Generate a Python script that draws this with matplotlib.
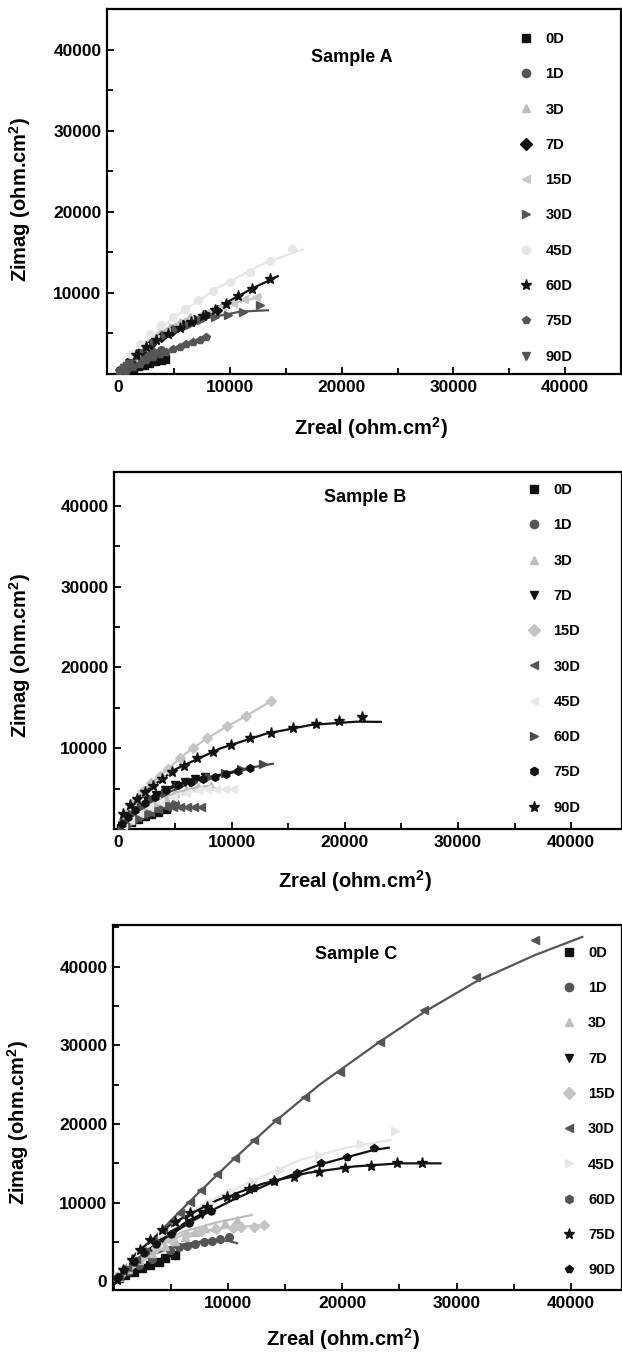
import matplotlib
matplotlib.use("Agg")
import matplotlib.pyplot as plt
from matplotlib.lines import Line2D
from matplotlib.ticker import MultipleLocator, FixedLocator

plt.rcParams['font.family'] = ['Liberation Sans', 'DejaVu Sans']
plt.rcParams['font.weight'] = 'bold'
plt.rcParams['mathtext.fontset'] = 'custom'
plt.rcParams['mathtext.rm'] = 'Liberation Sans:bold'
plt.rcParams['mathtext.bf'] = 'Liberation Sans:bold'
plt.rcParams['mathtext.default'] = 'bf'

labels = ['0D', '1D', '3D', '7D', '15D', '30D', '45D', '60D', '75D', '90D']

# ---------------- Sample A ----------------
A_markers = ['s', 'o', '^', 'D', '<', '>', 'o', '*', 'p', 'v']
A_colors = ['#111111', '#555555', '#bdbdbd', '#111111', '#c8c8c8', '#555555', '#e6e6e6', '#111111', '#555555', '#555555']
A_x = [
    [300, 800, 1300, 1800, 2300, 2800, 3300, 3800, 4200],
    [200, 600, 1100, 1700, 2400, 3100, 3800],
    [300, 800, 1400, 2100, 2900, 3700, 4600, 5500, 6400],
    [300, 800, 1400, 2100, 2900, 3800, 4800, 5800, 6800, 7800, 8800],
    [500, 1300, 2300, 3300, 4300, 5300, 6300, 7300, 8300, 9300, 10300, 11300, 12360],
    [600, 1400, 2300, 3200, 4200, 5200, 6300, 7440, 8630, 9820, 11160, 12660],
    [580, 1180, 1920, 2820, 3860, 4900, 5950, 7140, 8480, 9970, 11760, 13550, 15580],
    [880, 1630, 2520, 3420, 4450, 5500, 6550, 7590, 8630, 9620, 10720, 12000, 13550],
    [730, 1330, 1920, 2520, 3100, 3700, 4300, 4900, 5500, 6100, 6690, 7290, 7890],
    [50, 150, 300, 500, 750, 1000],
]
A_y = [
    [150, 450, 700, 950, 1150, 1350, 1550, 1700, 1850],
    [300, 800, 1300, 1800, 2300, 2700, 3000],
    [600, 1500, 2500, 3400, 4300, 5100, 5800, 6400, 7000],
    [500, 1300, 2100, 2900, 3700, 4500, 5300, 6000, 6700, 7300, 7900],
    [900, 2100, 3300, 4300, 5200, 6000, 6700, 7300, 7900, 8400, 8800, 9200, 9510],
    [900, 2000, 3100, 4000, 4800, 5500, 6100, 6630, 7030, 7330, 7650, 8480],
    [1270, 2510, 3750, 4980, 6010, 7030, 8070, 9100, 10250, 11360, 12600, 13960, 15360],
    [1060, 2300, 3330, 4150, 4980, 5670, 6420, 7120, 7860, 8690, 9590, 10540, 11660],
    [370, 860, 1270, 1680, 2090, 2420, 2700, 3040, 3330, 3660, 3950, 4240, 4560],
    [100, 300, 500, 750, 1000, 1250],
]
A_fitx = {4: [0, 3000, 6000, 9000, 12800], 5: [0, 2000, 5000, 8000, 11000, 13400],
          6: [0, 2000, 5000, 9000, 13000, 16530], 7: [0, 2000, 5000, 9000, 12000, 14290]}
A_fity = {4: [0, 4200, 6500, 8300, 9500], 5: [0, 2700, 5400, 6900, 7700, 7860],
          6: [0, 3500, 7000, 10700, 13600, 15360], 7: [0, 2900, 5000, 8300, 10540, 12060]}

# ---------------- Sample B ----------------
B_markers = ['s', 'o', '^', 'v', 'D', '<', '<', '>', 'h', '*']
B_colors = ['#111111', '#555555', '#bdbdbd', '#111111', '#c4c4c4', '#555555', '#e8e8e8', '#4a4a4a', '#111111', '#111111']
B_x = [
    [200, 600, 1100, 1700, 2300, 2900, 3500, 4200],
    [300, 800, 1400, 2000, 2700, 3400, 4200, 5000],
    [300, 800, 1500, 2300, 3200, 4100, 5000, 6000, 7000, 8210],
    [300, 700, 1200, 1800, 2500, 3300, 4100, 5000, 5900, 6800, 7600],
    [400, 900, 1500, 2200, 2900, 3660, 4390, 5420, 6540, 7820, 9590, 11300, 13500],
    [200, 600, 1100, 1600, 2200, 2800, 3500, 4250, 4850, 5450, 6050, 6650, 7330],
    [400, 1000, 1800, 2700, 3700, 4800, 6000, 7000, 7800, 8600, 9400, 10110],
    [500, 1200, 2000, 3000, 4100, 5300, 6600, 8000, 9400, 10800, 12760],
    [300, 800, 1500, 2300, 3200, 4200, 5300, 6400, 7470, 8500, 9530, 10560, 11590],
    [420, 1010, 1600, 2330, 3070, 3800, 4690, 5770, 6970, 8350, 9970, 11650, 13500, 15460, 17460, 19460, 21510],
]
B_y = [
    [200, 500, 900, 1300, 1600, 1900, 2200, 2500],
    [300, 800, 1300, 1800, 2200, 2600, 3000, 3300],
    [400, 1100, 1900, 2700, 3400, 4000, 4500, 4900, 5200, 5410],
    [500, 1200, 2000, 2800, 3600, 4300, 4900, 5500, 5900, 6200, 6500],
    [1100, 2300, 3500, 4700, 5700, 6640, 7470, 8780, 10010, 11240, 12720, 14020, 15870],
    [200, 600, 1100, 1500, 1900, 2200, 2550, 2700, 2750, 2750, 2750, 2720, 2700],
    [500, 1200, 2000, 2700, 3400, 4000, 4500, 4800, 5000, 5000, 4950, 4920],
    [900, 1900, 2800, 3700, 4500, 5300, 5900, 6500, 6900, 7400, 8080],
    [700, 1500, 2400, 3200, 4000, 4800, 5500, 5900, 6240, 6520, 6850, 7180, 7550],
    [1930, 2950, 3780, 4600, 5410, 6240, 7060, 7870, 8820, 9590, 10420, 11240, 11860, 12470, 13000, 13410, 13830],
]
B_fitx = {7: [0, 3000, 6600, 9400, 11000, 13640], 9: [0, 2000, 5000, 9000, 13000, 17000, 21000, 23190]}
B_fity = {7: [0, 3700, 5900, 6900, 7450, 8100], 9: [0, 4300, 7400, 10000, 11800, 12900, 13300, 13280]}

# ---------------- Sample C ----------------
C_markers = ['s', 'o', '^', 'v', 'D', '<', '>', 'h', '*', 'p']
C_colors = ['#111111', '#555555', '#bdbdbd', '#111111', '#c4c4c4', '#555555', '#e6e6e6', '#555555', '#111111', '#111111']
C_x = [
    [400, 960, 1700, 2430, 3160, 3890, 4470, 5350],
    [400, 1200, 2200, 3300, 4910, 5640, 6370, 7100, 7840, 8570, 9300, 10030],
    [400, 1200, 2200, 3300, 4500, 5300, 6230, 7100, 7980, 8860, 9740, 10760],
    [300, 800, 1500, 2300, 3200, 4200, 5300, 6500, 7700],
    [500, 1400, 2500, 3700, 5000, 6300, 7600, 8900, 10400, 11130, 12220, 13100],
    [400, 1100, 1900, 2700, 3500, 4300, 5060, 5790, 6610, 7600, 9010, 10610, 12280, 14200, 16750, 19760, 23270, 27190, 31670, 36840],
    [300, 800, 1500, 2300, 3200, 4200, 5400, 6800, 8400, 10200, 12200, 14500, 17920, 21640, 24630],
    [300, 900, 1700, 2600, 3700, 5000, 6600, 8500],
    [240, 820, 1550, 2280, 3160, 4180, 5350, 6670, 8130, 9880, 11780, 13970, 15730, 17920, 20260, 22520, 24800, 26990],
    [300, 900, 1700, 2600, 3700, 5000, 6600, 8500, 10610, 12280, 14040, 16020, 18130, 20410, 22750],
]
C_y = [
    [400, 830, 1250, 1670, 2090, 2520, 3030, 3370],
    [500, 1300, 2100, 2900, 4000, 4360, 4530, 4780, 4950, 5190, 5360, 5610],
    [600, 1600, 2700, 3600, 4500, 5100, 5690, 6320, 6750, 6960, 7390, 7810],
    [500, 1300, 2300, 3300, 4400, 5500, 6600, 7700, 8600],
    [800, 2000, 3200, 4300, 5200, 5900, 6400, 6700, 6770, 6880, 6960, 7170],
    [700, 1800, 2900, 4000, 5200, 6400, 7600, 8740, 10130, 11620, 13600, 15640, 18000, 20510, 23470, 26640, 30450, 34480, 38700, 43370],
    [600, 1500, 2600, 3700, 4900, 6000, 7300, 8600, 9900, 11300, 12700, 14200, 16060, 17430, 19110],
    [500, 1400, 2500, 3600, 4800, 6000, 7400, 9000],
    [190, 1460, 2730, 4000, 5270, 6540, 7600, 8660, 9500, 10690, 11700, 12760, 13310, 13940, 14370, 14670, 15010, 15090],
    [500, 1400, 2500, 3600, 4800, 6000, 7400, 9000, 10860, 11830, 12800, 13820, 15010, 15850, 16910],
]
C_fitx = {1: [0, 1500, 3500, 6000, 8500, 10000, 10760], 2: [0, 3000, 6000, 9000, 12080],
          4: [0, 3000, 6000, 9000, 13390],
          5: [0, 1500, 4000, 7000, 10000, 14000, 18000, 23270, 27190, 31670, 36840, 41020],
          6: [0, 2000, 5000, 8000, 11930, 16320, 20410, 24210],
          8: [0, 2000, 5000, 9000, 13000, 17000, 21000, 25000, 28600],
          9: [0, 3000, 7000, 10610, 14040, 18130, 22750, 24060]}
C_fity = {1: [0, 1900, 3500, 4700, 5250, 5150, 4850], 2: [0, 4100, 6300, 7500, 8440],
          4: [0, 3900, 5900, 6700, 7200],
          5: [0, 2500, 6300, 10700, 14900, 20200, 25000, 30450, 34260, 38070, 41460, 43780],
          6: [0, 3300, 7000, 10000, 12670, 15430, 17000, 17970],
          8: [0, 3700, 7300, 10300, 12400, 13800, 14600, 15000, 15000],
          9: [0, 4100, 7900, 10500, 12700, 14900, 16700, 16990]}

W, H = 622, 1353
fig = plt.figure(figsize=(W / 100, H / 100), dpi=100)

panels = [
    dict(rect=(107 / W, 1 - 374 / H, 514 / W, 365 / H), xlim=(-1000, 45000), ylim=(0, 45000),
         xt=[0, 10000, 20000, 30000, 40000], yt=[10000, 20000, 30000, 40000],
         markers=A_markers, colors=A_colors, xs=A_x, ys=A_y, fx=A_fitx, fy=A_fity,
         title='Sample A', tpos=(0.477, 0.866), leg=(0.8016, 0.937),
         ylab=(-0.143, 0.477), xlab=(0.514, -0.112)),
    dict(rect=(114 / W, 1 - 829.3 / H, 508 / W, 357.6 / H), xlim=(-400, 44500), ylim=(0, 44200),
         xt=[0, 10000, 20000, 30000, 40000], yt=[10000, 20000, 30000, 40000],
         markers=B_markers, colors=B_colors, xs=B_x, ys=B_y, fx=B_fitx, fy=B_fity,
         title='Sample B', tpos=(0.494, 0.929), leg=(0.813, 0.968),
         ylab=(-0.160, 0.487), xlab=(0.474, -0.108)),
    dict(rect=(113 / W, 1 - 1290 / H, 509 / W, 365 / H), xlim=(-100, 44500), ylim=(-1100, 45300),
         xt=[10000, 20000, 30000, 40000], yt=[0, 10000, 20000, 30000, 40000],
         markers=C_markers, colors=C_colors, xs=C_x, ys=C_y, fx=C_fitx, fy=C_fity,
         title='Sample C', tpos=(0.477, 0.918), leg=(0.882, 0.943),
         ylab=(-0.162, 0.46), xlab=(0.452, -0.099)),
]

for p in panels:
    ax = fig.add_axes(p['rect'])
    for i in range(10):
        c = p['colors'][i]
        m = p['markers'][i]
        if i in p['fx']:
            ax.plot(p['fx'][i], p['fy'][i], '-', color=c, lw=1.6, zorder=2)
        else:
            ax.plot(p['xs'][i], p['ys'][i], '-', color=c, lw=1.6, zorder=2)
        ms = 8 if m == '*' else 5.5
        ax.plot(p['xs'][i], p['ys'][i], ls='none', marker=m, color=c, ms=ms, mec=c, zorder=3)
    ax.set_xlim(*p['xlim'])
    ax.set_ylim(*p['ylim'])
    ax.xaxis.set_major_locator(FixedLocator(p['xt']))
    ax.yaxis.set_major_locator(FixedLocator(p['yt']))
    ax.xaxis.set_minor_locator(MultipleLocator(5000))
    ax.yaxis.set_minor_locator(MultipleLocator(5000))
    ax.tick_params(which='both', direction='in', width=1.3, labelsize=12.5, pad=4)
    ax.tick_params(which='major', length=5)
    ax.tick_params(which='minor', length=4)
    ax.tick_params(top=False, right=False, which='both')
    for lab in ax.get_xticklabels() + ax.get_yticklabels():
        lab.set_fontweight('bold')
    for s in ax.spines.values():
        s.set_linewidth(1.6)
    ax.set_xlabel(r'Zreal (ohm.cm$^{\mathbf{2}}$)', fontsize=14.5, fontweight='bold')
    ax.set_ylabel(r'Zimag (ohm.cm$^{\mathbf{2}}$)', fontsize=14.5, fontweight='bold')
    ax.yaxis.set_label_coords(*p['ylab'])
    ax.xaxis.set_label_coords(*p['xlab'])
    ax.text(p['tpos'][0], p['tpos'][1], p['title'], transform=ax.transAxes, ha='center', va='center',
            fontsize=13, fontweight='bold')
    handles = [Line2D([], [], ls='none', marker=p['markers'][i], color=p['colors'][i],
                      ms=(8 if p['markers'][i] == '*' else 6)) for i in range(10)]
    ax.legend(handles, labels, loc='upper left', bbox_to_anchor=p['leg'], frameon=False,
              prop=dict(size=10.5, weight='bold'), labelspacing=1.46, handlelength=1.0,
              handletextpad=0.8, borderpad=0, borderaxespad=0)

fig.savefig('out.png', dpi=100)
